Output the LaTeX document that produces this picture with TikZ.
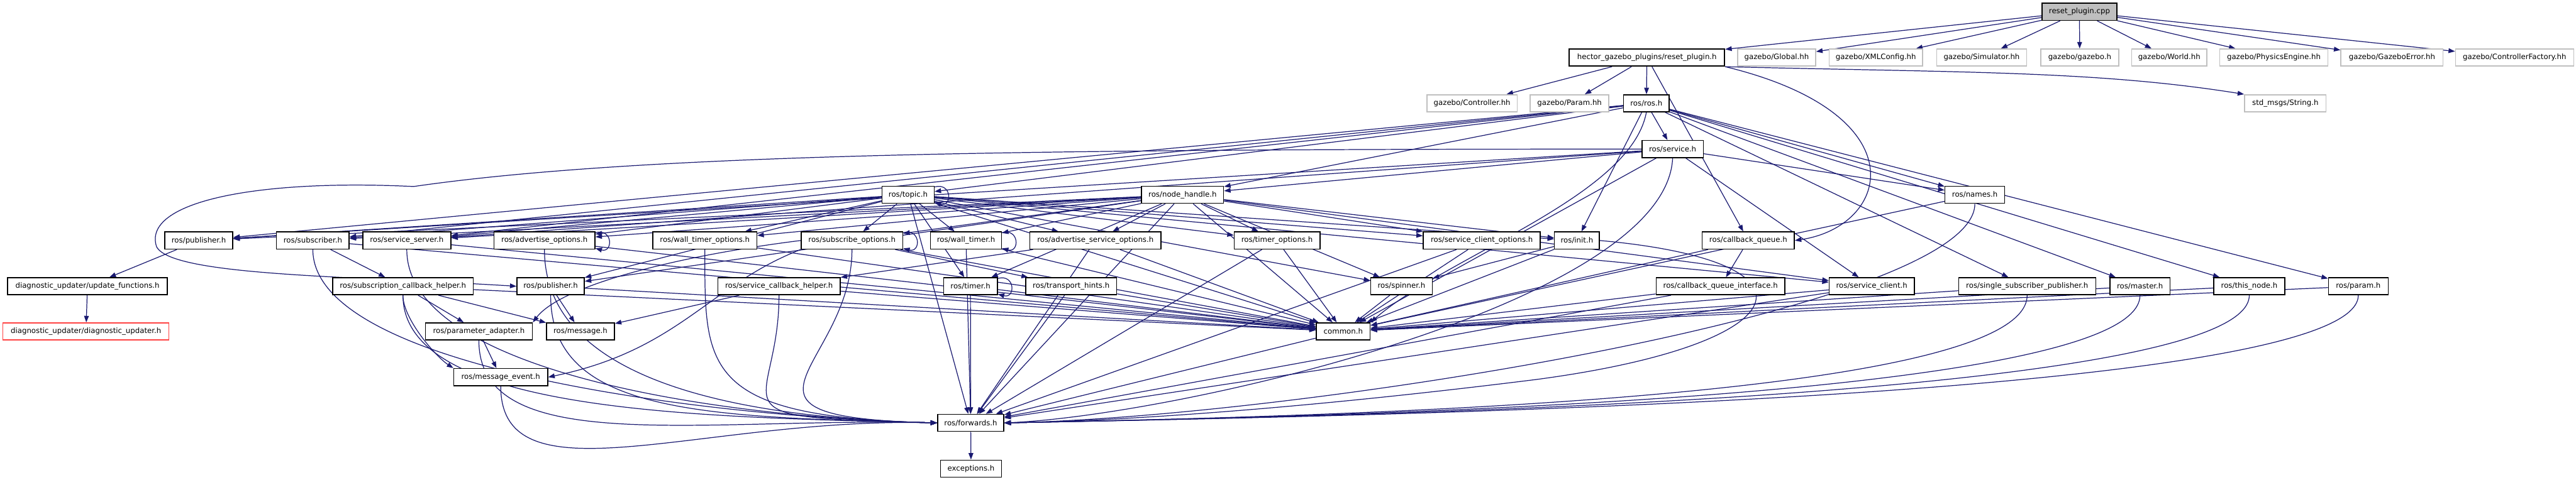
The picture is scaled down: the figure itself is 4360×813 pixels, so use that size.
\documentclass[tikz,border=0pt]{standalone}
\usepackage{fontspec}
\newfontfamily\dvs{DejaVu Sans}
\usetikzlibrary{arrows.meta}
\definecolor{edgec}{HTML}{191970}
\definecolor{graybd}{HTML}{BFBFBF}
\definecolor{cppfill}{HTML}{BFBFBF}
\definecolor{redbd}{HTML}{FF4040}
\pgfdeclarelayer{bg}
\pgfsetlayers{bg,main}
\tikzset{
  nd/.style={draw=black,line width=1.6pt,fill=white,minimum height=29pt,inner sep=0pt,font=\dvs\fontsize{12.5pt}{14pt}\selectfont},
  gnd/.style={nd,draw=graybd},
  e/.style={draw=edgec,line width=1.3pt,-{Triangle[length=11pt,width=8pt]}},
}
\begin{document}
\begin{tikzpicture}[x=1pt,y=1pt]
\useasboundingbox (0,0) rectangle (4360,813);
% row 0
\node[nd,fill=cppfill,minimum width=127pt] (cpp) at (3519.5,793) {reset\_plugin.cpp};
% row 1
\node[nd,line width=2pt,minimum width=263pt] (hector) at (2787.5,715.5) {hector\_gazebo\_plugins/reset\_plugin.h};
\node[gnd,minimum width=132pt] (global) at (3007,715.5) {gazebo/Global.hh};
\node[gnd,minimum width=158pt] (xml) at (3175,715.5) {gazebo/XMLConfig.hh};
\node[gnd,minimum width=152pt] (sim) at (3354,715.5) {gazebo/Simulator.hh};
\node[gnd,minimum width=132pt] (gazeboh) at (3520,715.5) {gazebo/gazebo.h};
\node[gnd,minimum width=127pt] (world) at (3671.5,715.5) {gazebo/World.hh};
\node[gnd,minimum width=183pt] (phys) at (3848.5,715.5) {gazebo/PhysicsEngine.hh};
\node[gnd,minimum width=173pt] (gerr) at (4048.5,715.5) {gazebo/GazeboError.hh};
\node[gnd,minimum width=200pt] (cfac) at (4256,715.5) {gazebo/ControllerFactory.hh};
% row 2
\node[gnd,minimum width=153pt] (ctrl) at (2491.5,638) {gazebo/Controller.hh};
\node[gnd,minimum width=133pt] (param) at (2656.5,638) {gazebo/Param.hh};
\node[nd,minimum width=77pt] (ros) at (2786.5,638) {ros/ros.h};
\node[gnd,minimum width=138pt] (string) at (3868,638) {std\_msgs/String.h};
% row 3
\node[nd,minimum width=104pt] (service) at (2831,560.5) {ros/service.h};
% row 4
\node[nd,minimum width=88pt] (topic) at (1537,483) {ros/topic.h};
\node[nd,minimum width=139pt] (nodeh) at (2001.5,483) {ros/node\_handle.h};
\node[nd,minimum width=101pt] (names) at (3342.5,483) {ros/names.h};
% row 5
\node[nd,minimum width=115pt] (pub1) at (336.5,405.5) {ros/publisher.h};
\node[nd,minimum width=123pt] (sub) at (529.5,405.5) {ros/subscriber.h};
\node[nd,minimum width=149pt] (ssrv) at (688.5,405.5) {ros/service\_server.h};
\node[nd,minimum width=171pt] (advo) at (921.5,405.5) {ros/advertise\_options.h};
\node[nd,minimum width=176pt] (wto) at (1193,405.5) {ros/wall\_timer\_options.h};
\node[nd,minimum width=172pt] (subo) at (1442,405.5) {ros/subscribe\_options.h};
\node[nd,minimum width=120pt] (wt) at (1635,405.5) {ros/wall\_timer.h};
\node[nd,minimum width=222pt] (aso) at (1854,405.5) {ros/advertise\_service\_options.h};
\node[nd,minimum width=145pt] (to) at (2161.5,405.5) {ros/timer\_options.h};
\node[nd,minimum width=198pt] (sco) at (2508,405.5) {ros/service\_client\_options.h};
\node[nd,minimum width=76pt] (init) at (2669,405.5) {ros/init.h};
\node[nd,minimum width=156pt] (cbq) at (2959,405.5) {ros/callback\_queue.h};
% row 6
\node[nd,minimum width=270pt] (upd) at (148,328) {diagnostic\_updater/update\_functions.h};
\node[nd,minimum width=238pt] (sch) at (682,328) {ros/subscription\_callback\_helper.h};
\node[nd,minimum width=114pt] (pub2) at (932,328) {ros/publisher.h};
\node[nd,minimum width=207pt] (scbh) at (1318.5,328) {ros/service\_callback\_helper.h};
\node[nd,minimum width=91pt] (timer) at (1642.5,328) {ros/timer.h};
\node[nd,minimum width=154pt] (th) at (1813,328) {ros/transport\_hints.h};
\node[nd,minimum width=104pt] (spin) at (2372,328) {ros/spinner.h};
\node[nd,minimum width=218pt] (cbqi) at (2912,328) {ros/callback\_queue\_interface.h};
\node[nd,minimum width=144pt] (sc) at (3168,328) {ros/service\_client.h};
\node[nd,minimum width=232pt] (ssp) at (3431,328) {ros/single\_subscriber\_publisher.h};
\node[nd,minimum width=102pt] (master) at (3622,328) {ros/master.h};
\node[nd,minimum width=120pt] (thisn) at (3807,328) {ros/this\_node.h};
\node[nd,minimum width=101pt] (prm) at (3991.5,328) {ros/param.h};
% row 7
\node[nd,draw=redbd,minimum width=281pt] (diag) at (145.5,251.5) {diagnostic\_updater/diagnostic\_updater.h};
\node[nd,minimum width=181pt] (padapt) at (810.5,251.5) {ros/parameter\_adapter.h};
\node[nd,minimum width=115pt] (msg) at (982.5,251.5) {ros/message.h};
\node[nd,minimum width=91pt] (common) at (2273.5,251.5) {common.h};
% row 8-10
\node[nd,minimum width=159pt] (mev) at (847.5,174) {ros/message\_event.h};
\node[nd,minimum width=112pt] (fwd) at (1643,96.5) {ros/forwards.h};
\node[nd,minimum width=103pt] (exc) at (1643.5,19) {exceptions.h};

\begin{pgfonlayer}{bg}
\foreach \t in {hector,global,xml,sim,gazeboh,world,phys,gerr,cfac} \draw[e] (cpp) -- (\t);
\foreach \t in {ctrl,param,ros,cbq} \draw[e] (hector) -- (\t);
\draw[e] (hector.south east) .. controls +(400,-10) and +(-250,40) .. (string.north west);
\foreach \t in {service,nodeh,topic,names,init,ssp,master,thisn,prm,pub1,sub,ssrv} \draw[e] (ros) -- (\t);
\draw[e] (ros.south) .. controls (2760,480) and (2450,380) .. (common.north east);
\draw[e] (service.west) .. controls (1800,560) and (1100,555) .. (700,497) .. controls (430,510) and (240,470) .. (265,395) .. controls (290,345) and (600,345) .. (pub2.west);
\foreach \t in {nodeh,names,common,sc,ssrv,pub1} \draw[e] (service) -- (\t);
\draw[e] (service.south) .. controls (2820,300) and (2000,110) .. (fwd.east);
\foreach \t in {pub1,sub,ssrv,advo,wto,subo,wt,aso,to,sco,init,spin,common,sc,timer,pub2,fwd} {
  \draw[e] (topic) -- (\t);
  \draw[e] (nodeh) -- (\t);
}
\foreach \n in {topic,subo,wt,advo,timer} \draw[e] ([yshift=-2pt]\n.north east) .. controls +(30,8) and +(30,-8) .. ([yshift=2pt]\n.south east);
\draw[e] (pub1) -- (upd);
\draw[e] (upd) -- (diag);
\draw[e] (sub) -- (sch);
\draw[e] (subo) -- (th);
\draw[e] (aso) -- (scbh);
\draw[e] (init) -- (spin);
\draw[e] (cbq) -- (cbqi);
\draw[e] (sch) -- (padapt);
\draw[e] (sch) -- (msg);
\draw[e] (pub2) -- (msg);
\draw[e] (scbh) -- (msg);
\draw[e] (padapt) -- (mev);
\draw[e] (sch.south) .. controls +(0,-40) and +(-30,20) .. (mev.north west);
\draw[e] (subo.south west) .. controls (1200,330) and (1150,220) .. (mev.east);
\draw[e] (subo.west) .. controls (1150,380) and (950,330) .. (padapt.north east);
\foreach \s in {sub,ssrv,advo,sch,pub2,padapt,mev,wto,subo,scbh} \draw[e] (\s.south) .. controls +(0,-200) and +(-400,10) .. (fwd.west);
\foreach \s in {wt,timer,th,aso,to} \draw[e] (\s) -- (fwd);
\foreach \s in {sco,common,sc,cbqi} \draw[e] (\s) -- (fwd);
\foreach \s in {ssp,master,thisn,prm,names} \draw[e] (\s.south) .. controls +(0,-180) and +(500,10) .. (fwd.east);
\draw[e] (init.east) .. controls (3100,370) and (3050,230) .. (2600,170) .. controls (2200,120) and (1900,100) .. (fwd.east);
\foreach \s in {sub,ssrv,advo,wto,subo,wt,aso,to,sco,init,cbq,sch,pub2,scbh,timer,th,spin,cbqi,sc,ssp,master,thisn,prm,names} \draw[e] (\s) -- (common);
\draw[e] (hector.south east) .. controls (3250,620) and (3200,430) .. (cbq.east);
\draw[e] (fwd) -- (exc);
\end{pgfonlayer}
\end{tikzpicture}
\end{document}
